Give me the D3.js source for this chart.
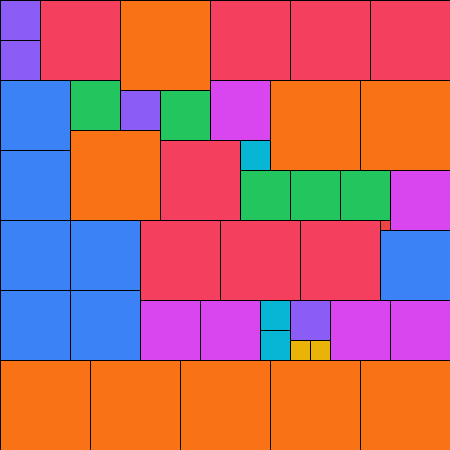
<!DOCTYPE html>
<html>
<head>
<meta charset="utf-8">
<script src="https://cdn.jsdelivr.net/npm/d3@7"></script>
<style>
html,body{margin:0;padding:0;background:#fff;}
svg{display:block;}
</style>
</head>
<body>
<svg id="chart" width="450" height="450"></svg>
<script>
// Categories and their colours
const groups = ["purple","red","orange","blue","green","magenta","cyan","yellow","smallred"];
const groupColors = ["#8b5cf6","#f43f5e","#f97316","#3b82f6","#22c55e","#d946ef","#06b6d4","#eab308","#ef4444"];

// Each square: group, grid column, grid row, side (grid units)
const cellGroup = [
  "purple","purple","purple","purple",
  "red","red","red","red","red","red","red","red",
  "orange","orange","orange","orange","orange","orange","orange","orange","orange",
  "blue","blue","blue","blue","blue","blue","blue",
  "green","green","green","green","green",
  "magenta","magenta","magenta","magenta","magenta","magenta",
  "cyan","cyan","cyan",
  "yellow","yellow",
  "smallred"
];
const cellCol = [
  0,0,12,29,
  4,21,29,37,16,14,22,30,
  12,27,36,7,0,9,18,27,36,
  0,0,0,7,0,7,38,
  7,16,24,29,34,
  21,39,14,20,33,39,
  24,26,26,
  29,31,
  38
];
const cellRow = [
  0,4,9,30,
  0,0,0,0,14,22,22,22,
  0,8,8,13,36,36,36,36,36,
  8,15,22,22,29,29,23,
  8,9,17,17,17,
  8,17,30,30,30,30,
  14,30,33,
  34,34,
  22
];
const cellSize = [
  4,4,4,4,
  8,8,8,8,8,8,8,8,
  9,9,9,9,9,9,9,9,9,
  7,7,7,7,7,7,7,
  5,5,5,5,5,
  6,6,6,6,6,6,
  3,3,3,
  2,2,
  1
];

const W = 450, H = 450, GRID = 45;
const x = d3.scaleLinear().domain([0, GRID]).range([0, W]);
const y = d3.scaleLinear().domain([0, GRID]).range([0, H]);
const color = d3.scaleOrdinal().domain(groups).range(groupColors);

const cells = cellGroup.map((g, i) => ({g, c: cellCol[i], r: cellRow[i], s: cellSize[i]}));

const svg = d3.select("#chart");
svg.selectAll("rect.cell")
  .data(cells)
  .join("rect")
  .attr("class", "cell")
  .attr("x", d => x(d.c))
  .attr("y", d => y(d.r))
  .attr("width", d => x(d.c + d.s) - x(d.c))
  .attr("height", d => y(d.r + d.s) - y(d.r))
  .attr("fill", d => color(d.g))
  .attr("stroke", "#000")
  .attr("stroke-width", 1)
  .attr("shape-rendering", "crispEdges");
</script>
</body>
</html>
